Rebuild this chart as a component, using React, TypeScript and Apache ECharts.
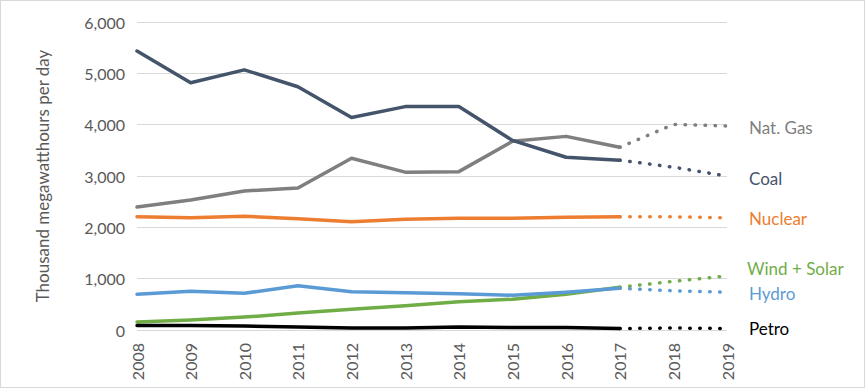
import React, { useEffect, useRef } from "react";
import * as echarts from "echarts";

const years = ["2008", "2009", "2010", "2011", "2012", "2013", "2014", "2015", "2016", "2017", "2018", "2019"];
const lastActualYear = "2017";
const coal = [5435, 4816, 5068, 4739, 4139, 4352, 4352, 3694, 3366, 3308, 3172, 2998];
const natGas = [2398, 2534, 2708, 2766, 3346, 3075, 3085, 3675, 3772, 3559, 4004, 3975];
const nuclear = [2205, 2186, 2215, 2166, 2108, 2157, 2176, 2176, 2195, 2205, 2205, 2186];
const windSolar = [155, 193, 251, 329, 406, 474, 551, 600, 696, 832, 948, 1054];
const hydro = [696, 754, 716, 861, 745, 725, 706, 677, 735, 812, 764, 735];
const petro = [87, 87, 77, 58, 39, 39, 58, 48, 48, 29, 39, 29];
const yTicks = [0, 1000, 2000, 3000, 4000, 5000, 6000];

const FONT = "Lato, 'Open Sans', sans-serif";

const seriesDefs = [
  { name: "Nat. Gas", data: natGas, color: "#7f7f7f", offset: [14, 2] },
  { name: "Coal", data: coal, color: "#44546a", offset: [14, 2] },
  { name: "Nuclear", data: nuclear, color: "#ed7d31", offset: [14, 1] },
  { name: "Wind + Solar", data: windSolar, color: "#70ad47", offset: [12, -7] },
  { name: "Hydro", data: hydro, color: "#5b9bd5", offset: [14, 1] },
  { name: "Petro", data: petro, color: "#000000", offset: [14, 0] },
];

export default function App() {
  const ref = useRef<HTMLDivElement>(null);
  useEffect(() => {
    document.body.style.margin = "0";
    const chart = echarts.init(ref.current!, null, { renderer: "svg" });
    const split = years.indexOf(lastActualYear);
    const series: any[] = [];
    seriesDefs.forEach((d) => {
      series.push({
        type: "line",
        name: d.name,
        data: d.data.map((v, i) => (i <= split ? v : null)),
        symbol: "none",
        lineStyle: { color: d.color, width: 3.5, cap: "round", join: "round" },
        z: 3,
      });
      series.push({
        type: "line",
        name: d.name + " forecast",
        data: d.data.map((v, i) => (i >= split ? v : null)),
        symbol: "none",
        lineStyle: { color: d.color, width: 3.5, type: [0.5, 9.5], cap: "round" },
        endLabel: {
          show: true,
          formatter: d.name,
          color: d.color,
          fontSize: 17,
          fontFamily: FONT,
          offset: d.offset,
        },
        z: 3,
      });
    });
    chart.setOption({
      animation: false,
      grid: { left: 136, right: 137, top: 21, bottom: 57 },
      xAxis: {
        type: "category",
        data: years,
        boundaryGap: false,
        axisLine: { show: false },
        axisTick: { show: false },
        axisLabel: {
          rotate: 90,
          color: "#595959",
          fontSize: 16,
          fontFamily: FONT,
          margin: 13,
          interval: 0,
        },
      },
      yAxis: {
        type: "value",
        min: 0,
        max: yTicks[yTicks.length - 1],
        interval: 1000,
        name: "Thousand megawatthours per day",
        nameLocation: "middle",
        nameGap: 86,
        nameRotate: 90,
        nameTextStyle: { color: "#595959", fontSize: 17, fontFamily: FONT },
        axisLabel: {
          color: "#595959",
          fontSize: 16,
          fontFamily: FONT,
          margin: 12,
          formatter: (v: number) => v.toLocaleString("en-US"),
        },
        splitLine: { lineStyle: { color: "#d9d9d9", width: 1 } },
      },
      series,
    });
    return () => chart.dispose();
  }, []);
  return (
    <div
      ref={ref}
      style={{
        position: "fixed",
        left: 0,
        top: 0,
        width: 865,
        height: 388,
        boxSizing: "border-box",
        border: "1px solid #d9d9d9",
        background: "#fff",
      }}
    />
  );
}
